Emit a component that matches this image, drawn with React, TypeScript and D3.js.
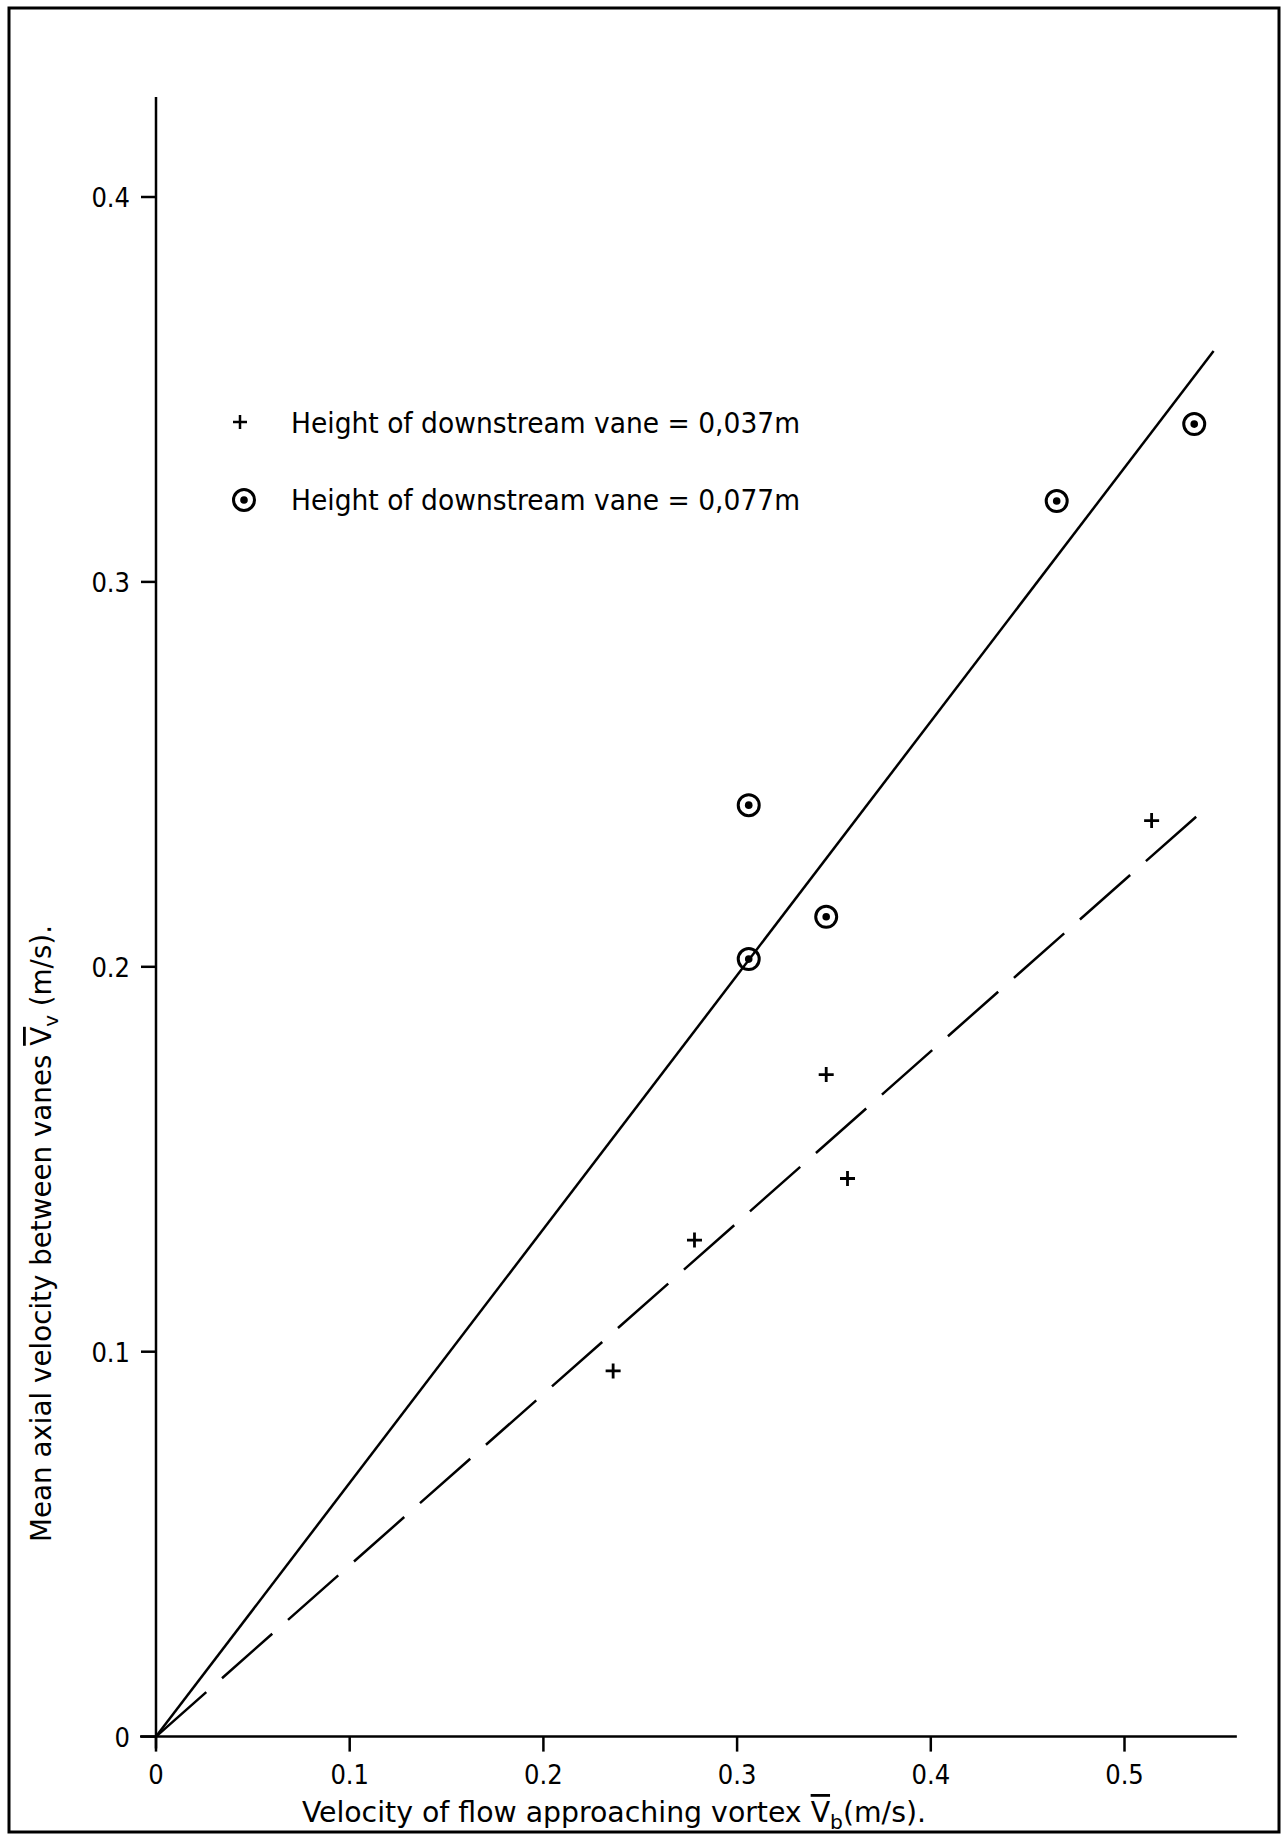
import React from 'react';
import * as d3 from 'd3';

// values
const xTicks = [0, 0.1, 0.2, 0.3, 0.4, 0.5];
const xTickLabels = ['0', '0.1', '0.2', '0.3', '0.4', '0.5'];
const yTicks = [0, 0.1, 0.2, 0.3, 0.4];
const yTickLabels = ['0', '0.1', '0.2', '0.3', '0.4'];

// height of downstream vane = 0.037m (+)
const plusX = [0.236, 0.278, 0.346, 0.357, 0.514];
const plusY = [0.095, 0.129, 0.172, 0.145, 0.238];
// height of downstream vane = 0.077m (circle with dot)
const circX = [0.306, 0.306, 0.346, 0.465, 0.536];
const circY = [0.242, 0.202, 0.213, 0.321, 0.341];

// fitted lines through the origin
const solidX = [0, 0.546];
const solidY = [0, 0.360];
const dashX = [0, 0.537];
const dashY = [0, 0.239];

const legendLabels = [
  'Height of downstream vane = 0,037m',
  'Height of downstream vane = 0,077m',
];

const FONT = '"DejaVu Sans Condensed", "DejaVu Sans", sans-serif';

const App = () => {
  const x = d3.scaleLinear().domain([0, 0.5]).range([156, 1124.5]);
  const y = d3.scaleLinear().domain([0, 0.4]).range([1736.6, 197]);

  const pathOf = (xs: number[], ys: number[]) =>
    d3
      .line<number>()
      .x(d => x(xs[d]))
      .y(d => y(ys[d]))(xs.map((_, i) => i)) || '';

  const plus = (cx: number, cy: number, r: number) =>
    `M${cx - r},${cy}H${cx + r}M${cx},${cy - r}V${cy + r}`;

  const x0 = x(0);
  const y0 = y(0);

  // 16 dashes with 15 gaps so the dashed line starts and ends on a dash
  const dashLen = Math.hypot(x(dashX[1]) - x0, y(dashY[1]) - y0);
  const gap = 21;
  const dash = (dashLen - 15 * gap) / 16;

  return (
    <div style={{ position: 'absolute', left: 0, top: 0 }}>
      <svg width={1284} height={1839} style={{ display: 'block', background: '#fff' }}>
        <rect x={9} y={8} width={1270} height={1824} fill="none" stroke="#000" strokeWidth={3} />

        {/* axes */}
        <line x1={x0} x2={x0} y1={y0 + 12} y2={y(0.426)} stroke="#000" strokeWidth={2.5} />
        <line x1={x0 - 16} x2={x(0.558)} y1={y0} y2={y0} stroke="#000" strokeWidth={2.5} />

        {xTicks.map((t, i) => (
          <g key={'xt' + i}>
            <line x1={x(t)} x2={x(t)} y1={y0} y2={y0 + 15} stroke="#000" strokeWidth={2.5} />
            <text
              x={x(t)}
              y={y0 + 47}
              textAnchor="middle"
              fontFamily={FONT}
              fontSize={27}
              fill="#000"
            >
              {xTickLabels[i]}
            </text>
          </g>
        ))}

        {yTicks.map((t, i) => (
          <g key={'yt' + i}>
            <line x1={x0 - 15} x2={x0} y1={y(t)} y2={y(t)} stroke="#000" strokeWidth={2.5} />
            <text
              x={x0 - 26}
              y={y(t) + 10}
              textAnchor="end"
              fontFamily={FONT}
              fontSize={27}
              fill="#000"
            >
              {yTickLabels[i]}
            </text>
          </g>
        ))}

        {/* fitted lines */}
        <path d={pathOf(solidX, solidY)} fill="none" stroke="#000" strokeWidth={2.5} />
        <path
          d={pathOf(dashX, dashY)}
          fill="none"
          stroke="#000"
          strokeWidth={2.5}
          strokeDasharray={`${dash} ${gap}`}
        />

        {/* data points */}
        {plusX.map((v, i) => (
          <path key={'p' + i} d={plus(x(v), y(plusY[i]), 7.5)} stroke="#000" strokeWidth={2.8} />
        ))}
        {circX.map((v, i) => (
          <g key={'c' + i}>
            <circle cx={x(v)} cy={y(circY[i])} r={10.5} fill="none" stroke="#000" strokeWidth={3} />
            <circle cx={x(v)} cy={y(circY[i])} r={3.8} fill="#000" />
          </g>
        ))}

        {/* legend */}
        <path d={plus(240, 422, 7)} stroke="#000" strokeWidth={2.5} />
        <circle cx={244} cy={500} r={10.5} fill="none" stroke="#000" strokeWidth={3} />
        <circle cx={244} cy={500} r={3.8} fill="#000" />
        {legendLabels.map((s, i) => (
          <text
            key={'l' + i}
            x={291}
            y={433 + i * 77}
            fontFamily={FONT}
            fontSize={29}
            textLength={509}
            lengthAdjust="spacingAndGlyphs"
            fill="#000"
          >
            {s}
          </text>
        ))}

        {/* axis titles */}
        <text
          x={302}
          y={1822}
          fontFamily={FONT}
          fontSize={28}
          textLength={624}
          lengthAdjust="spacingAndGlyphs"
          fill="#000"
        >
          Velocity of flow approaching vortex{' '}
          <tspan textDecoration="overline">V</tspan>
          <tspan dy={7} fontSize={20}>b</tspan>
          <tspan dy={-7}>(m/s).</tspan>
        </text>
        <text
          transform={`translate(51,1542) rotate(-90)`}
          fontFamily={FONT}
          fontSize={28}
          textLength={617}
          lengthAdjust="spacingAndGlyphs"
          fill="#000"
        >
          Mean axial velocity between vanes{' '}
          <tspan textDecoration="overline">V</tspan>
          <tspan dy={7} fontSize={20}>v</tspan>
          <tspan dy={-7}> (m/s).</tspan>
        </text>
      </svg>
    </div>
  );
};

export default App;
